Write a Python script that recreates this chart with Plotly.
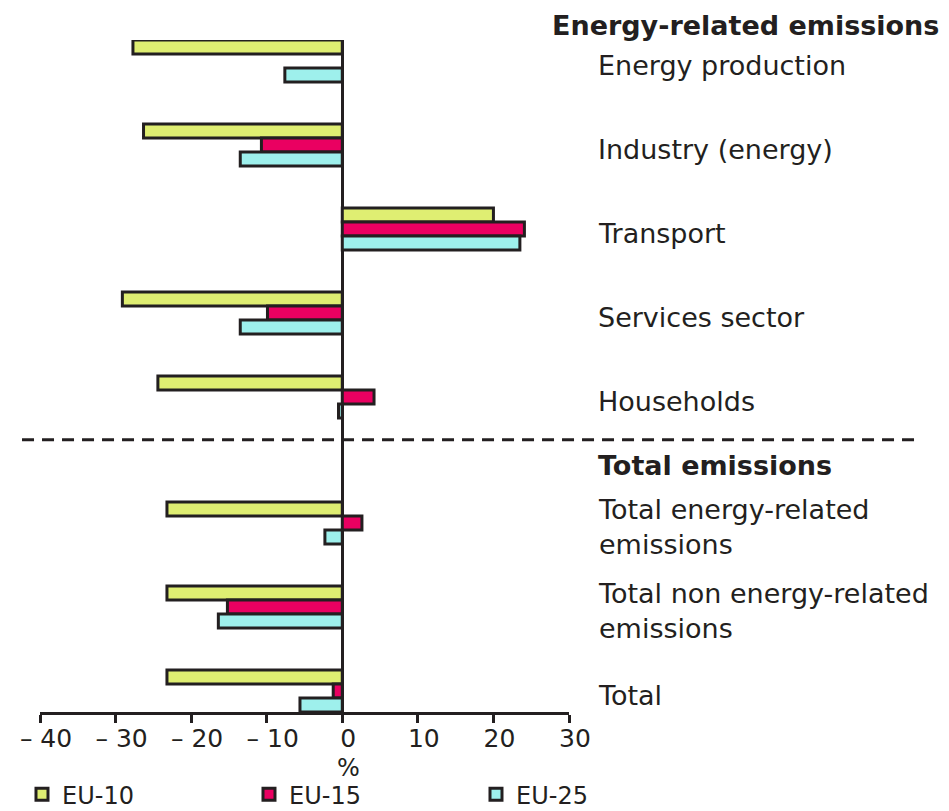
import plotly.graph_objects as go

# sectors, top to bottom
categories = [
    "Energy production",
    "Industry (energy)",
    "Transport",
    "Services sector",
    "Households",
    "Total energy-related<br>emissions",
    "Total non energy-related<br>emissions",
    "Total",
]
n_energy = 5  # first five rows belong to energy-related emissions

eu10 = [-27.7, -26.3, 20.0, -29.1, -24.4, -23.2, -23.2, -23.2]
eu15 = [None, -10.7, 24.1, -9.9, 4.2, 2.6, -15.2, -1.2]
eu25 = [-7.6, -13.5, 23.5, -13.5, -0.5, -2.3, -16.4, -5.6]

x_ticks = [-40, -30, -20, -10, 0, 10, 20, 30]
x_ticktext = ["\u2013 40", "\u2013 30", "\u2013 20", "\u2013 10", "0", "10", "20", "30"]

series = [
    ("EU-10", eu10, "#dfee72"),
    ("EU-15", eu15, "#ea0061"),
    ("EU-25", eu25, "#9ef0ec"),
]

INK = "#231f20"
FONT = "DejaVu Sans"
FS = 25
FS_LABEL = 27
FS_SMALL = 24

# leave half a row of space for the divider between the two blocks
ypos = [i if i < n_energy else i + 0.5 for i in range(len(categories))]

fig = go.Figure()
for name, vals, color in series:
    fig.add_trace(go.Bar(
        y=ypos, x=vals, name=name, orientation="h",
        marker=dict(color=color, line=dict(color=INK, width=3)),
    ))

annotations = []
for label, y in zip(categories, ypos):
    annotations.append(dict(
        x=1.051, y=y, xref="paper", yref="y", text=label, showarrow=False,
        xanchor="left", yanchor="middle", align="left", yshift=-4,
        font=dict(family=FONT, size=FS_LABEL, color=INK),
    ))
annotations.append(dict(
    x=0.964, y=1.021, xref="paper", yref="paper", text="<b>Energy-related emissions</b>",
    showarrow=False, xanchor="left", yanchor="middle",
    font=dict(family=FONT, size=FS_LABEL, color=INK),
))
annotations.append(dict(
    x=1.051, y=4.82, xref="paper", yref="y", text="<b>Total emissions</b>",
    showarrow=False, xanchor="left", yanchor="middle",
    font=dict(family=FONT, size=FS_LABEL, color=INK),
))
# axis unit, sits under the zero tick
annotations.append(dict(
    x=0, y=-0.084, xref="x", yref="paper", text="%", showarrow=False,
    xanchor="center", yanchor="middle", xshift=6,
    font=dict(family=FONT, size=FS_SMALL, color=INK),
))

fig.update_layout(
    width=941, height=803,
    margin=dict(l=32, r=380, t=32, b=99, autoexpand=False),
    paper_bgcolor="white", plot_bgcolor="white",
    barmode="group", bargap=0.5, bargroupgap=0,
    font=dict(family=FONT, size=FS, color=INK),
    annotations=annotations,
    shapes=[dict(
        type="line", xref="paper", yref="y", x0=-0.034, x1=1.654, y0=4.51, y1=4.51,
        line=dict(color=INK, width=3, dash="12px,8px"),
    )],
    legend=dict(
        orientation="h", xref="paper", yref="paper",
        x=1.2533, y=-0.123, xanchor="right", yanchor="middle",
        entrywidth=182, entrywidthmode="pixels",
        bgcolor="rgba(0,0,0,0)",
        font=dict(family=FONT, size=FS_SMALL, color=INK),
        traceorder="normal",
    ),
    xaxis=dict(
        range=[-40, 30], tickvals=x_ticks, ticktext=x_ticktext,
        tickfont=dict(family=FONT, size=FS, color=INK),
        showgrid=False, zeroline=True, zerolinecolor=INK, zerolinewidth=3,
        showline=True, linecolor=INK, linewidth=3,
        ticks="outside", ticklen=8, tickwidth=3, tickcolor=INK,
        ticklabelshift=6, ticklabelstandoff=-6,
    ),
    yaxis=dict(
        range=[len(categories) + 0.5 - 1 + 0.25, -0.25],
        showgrid=False, zeroline=False, showticklabels=False, showline=False,
    ),
)

fig.write_html("out.html")
